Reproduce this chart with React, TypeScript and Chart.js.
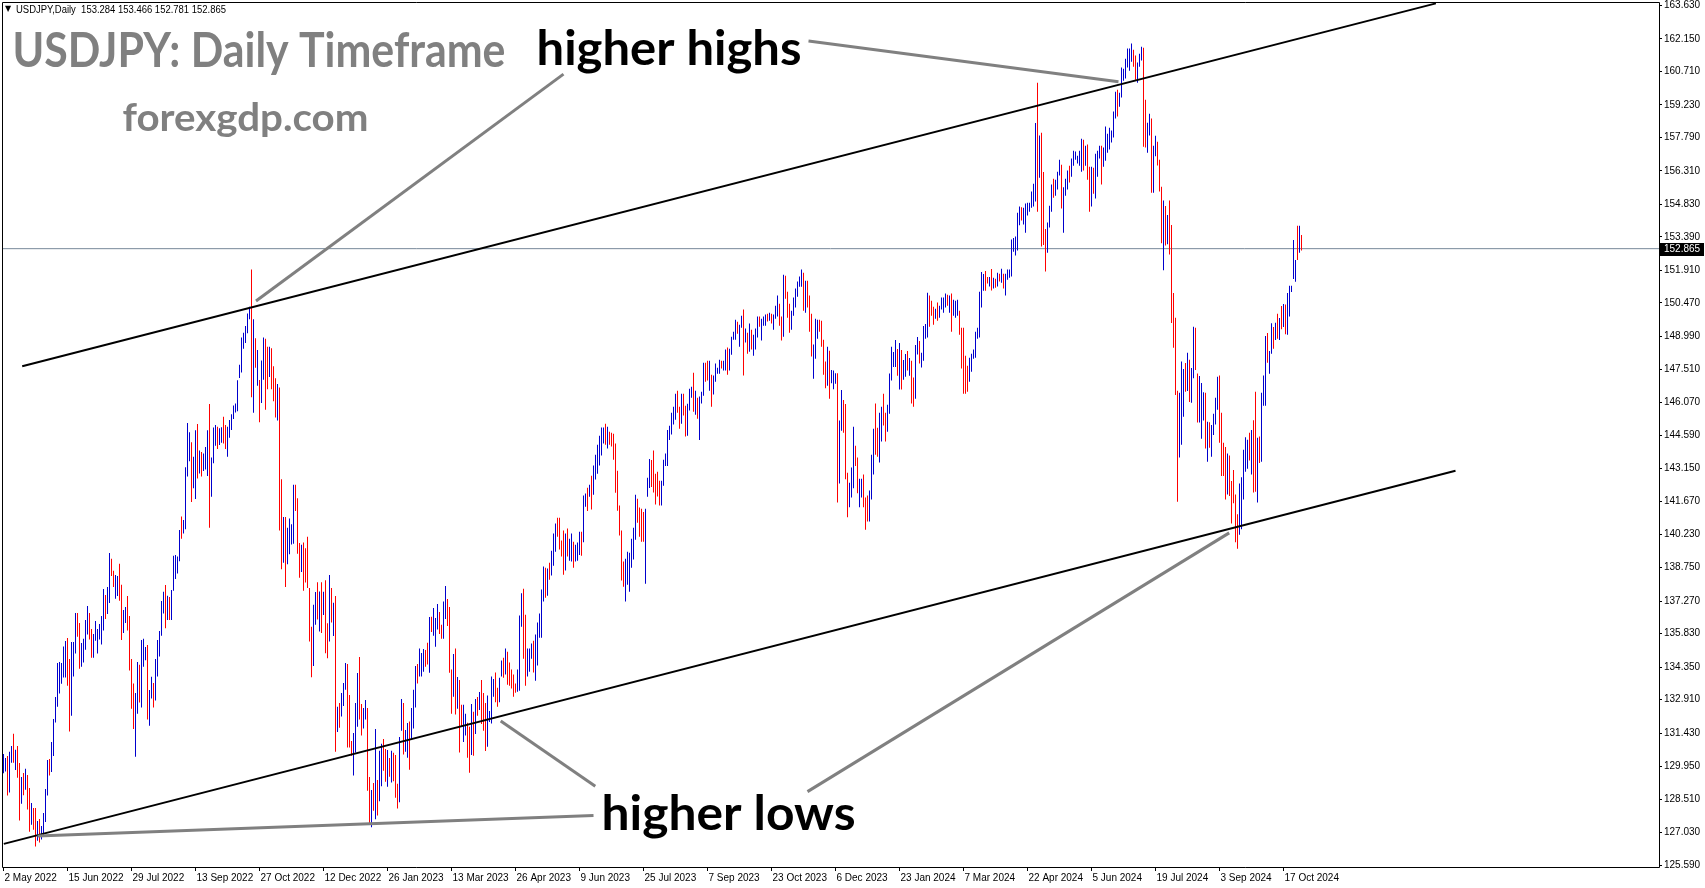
import React, { useEffect, useRef } from "react";
import { Chart, registerables } from "chart.js";

Chart.register(...registerables);

// ---------- DATA (USDJPY daily bars, 2 May 2022 .. 30 Oct 2024) ----------
const highs: number[] = [
  130.51,130.33,130.42,130.60,130.86,131.40,130.69,130.86,130.11,129.49,
  129.67,129.85,129.58,129.00,128.34,128.12,128.12,127.54,127.63,127.32,
  127.90,128.96,130.24,130.29,131.04,132.06,133.03,134.53,134.58,134.53,
  135.26,135.51,135.64,134.71,135.46,135.46,136.75,136.75,136.30,135.42,
  135.60,136.44,137.06,136.75,136.04,135.82,136.39,136.04,136.26,136.61,
  137.81,137.54,137.90,139.40,139.14,138.61,138.43,138.38,138.92,137.99,
  136.88,137.01,137.50,136.61,134.71,133.62,133.21,134.58,134.45,135.55,
  135.60,135.24,135.33,133.34,133.92,133.65,134.71,135.55,135.95,137.28,
  137.68,137.98,137.51,137.45,137.76,139.28,139.31,139.24,140.42,141.01,
  140.86,143.19,145.15,144.74,144.30,143.66,144.83,145.11,143.94,143.87,
  143.80,144.09,144.83,145.99,143.63,144.95,145.06,144.99,144.92,144.96,
  145.43,145.06,144.99,145.29,145.54,145.93,146.01,147.04,147.73,148.93,
  149.15,149.44,150.00,150.30,151.94,149.74,148.90,148.38,147.06,147.92,
  148.93,148.88,148.53,148.53,148.46,147.66,147.13,146.88,146.72,142.66,
  140.99,140.99,140.52,140.93,140.67,142.42,142.42,141.82,139.84,139.77,
  139.86,139.61,140.12,137.85,136.14,137.11,137.67,138.10,137.70,138.10,
  137.69,138.19,136.29,138.43,137.85,137.20,137.50,132.60,132.76,133.21,
  133.65,134.53,134.49,133.12,131.08,131.44,132.76,134.09,134.80,132.72,
  132.54,132.90,132.54,129.49,128.91,129.22,131.61,129.36,130.65,130.96,
  131.17,130.73,130.68,130.33,130.65,130.56,130.46,129.19,131.26,132.94,
  132.76,131.57,131.88,131.94,132.54,133.35,134.40,134.49,135.17,134.98,
  135.15,135.11,135.43,136.57,136.58,136.97,136.52,137.14,136.79,136.23,
  137.25,137.94,137.36,137.01,134.24,134.93,135.17,133.91,133.78,132.69,
  132.69,132.29,131.89,131.71,132.72,132.38,132.94,133.03,133.25,133.78,
  133.21,132.76,133.09,132.41,133.93,133.83,134.11,133.44,133.88,134.64,
  134.77,135.17,135.03,134.55,134.24,134.02,133.62,134.24,136.63,137.62,
  137.82,136.67,135.17,135.17,135.39,135.52,135.79,136.32,136.72,137.78,
  138.80,138.75,138.71,138.97,139.50,140.26,140.70,140.96,140.96,139.95,
  140.39,140.26,140.48,140.03,140.26,139.90,139.77,139.86,140.34,140.34,
  141.94,142.03,142.29,142.42,142.82,143.27,143.75,144.19,144.59,144.95,
  144.95,145.12,144.99,144.77,144.72,144.68,144.24,143.04,141.50,140.39,
  139.02,139.15,139.46,139.41,140.03,140.52,141.98,141.80,141.41,141.36,
  141.21,141.36,142.73,143.56,143.52,143.94,142.91,143.00,142.60,142.60,
  143.53,143.80,144.84,145.03,145.61,145.87,146.45,146.58,145.87,146.45,
  146.45,145.92,146.00,146.67,146.76,147.38,146.58,146.27,146.32,146.54,
  147.82,147.82,147.91,147.91,147.29,147.25,147.78,147.60,147.95,147.91,
  147.91,148.40,148.49,148.44,148.97,149.19,149.72,149.63,149.50,149.90,
  150.17,149.33,149.15,149.55,149.28,149.06,149.33,149.86,149.86,149.77,
  149.86,149.95,149.99,150.03,149.99,149.95,150.34,150.79,150.43,149.86,
  151.71,151.67,150.96,150.43,150.12,150.70,151.10,151.41,151.63,151.94,
  151.80,151.45,151.45,150.79,149.99,148.62,149.77,149.72,149.72,149.68,
  148.84,147.87,148.53,148.35,147.50,147.47,147.35,147.35,145.26,146.61,
  146.17,145.99,142.95,142.51,143.18,144.99,144.15,143.62,142.69,142.69,
  142.87,141.85,141.94,142.16,143.75,144.90,146.01,144.94,145.61,145.87,
  146.45,145.61,145.96,147.34,148.53,148.29,148.82,148.43,148.69,148.38,
  147.94,148.21,148.34,148.03,147.91,147.16,148.60,148.96,148.78,148.26,
  149.44,149.53,150.92,150.79,150.56,150.30,150.21,150.48,150.34,150.70,
  150.70,150.88,150.83,150.79,150.88,150.61,150.56,150.61,150.12,149.37,
  149.37,148.13,147.69,148.04,148.22,148.40,149.19,149.37,150.96,151.83,
  151.74,151.88,151.61,151.61,151.97,151.58,151.54,151.80,151.76,151.98,
  151.76,151.76,151.94,151.94,153.27,153.34,153.40,154.46,154.73,154.70,
  154.68,154.86,154.90,154.90,155.39,155.74,158.43,160.21,157.87,158.00,
  156.26,153.74,154.02,154.77,155.70,155.96,155.92,156.27,156.80,156.58,
  155.58,155.96,156.32,156.54,156.85,157.20,157.16,156.98,157.20,157.73,
  157.69,157.42,157.47,156.49,156.49,156.45,157.07,157.20,157.42,157.42,
  157.34,158.27,157.95,158.22,158.09,158.93,159.81,159.90,159.77,160.88,
  160.83,161.27,161.72,161.72,161.94,161.67,161.41,161.10,161.49,161.80,
  161.76,159.46,158.44,158.84,158.62,157.42,157.86,157.60,156.80,155.60,
  155.00,154.75,154.36,155.00,153.91,150.90,149.81,146.58,146.49,147.87,
  147.54,147.81,148.26,147.95,147.58,149.41,149.37,147.34,147.23,146.92,
  146.51,146.49,145.21,145.18,145.06,145.56,146.27,147.20,147.25,145.61,
  144.28,144.09,143.80,143.71,142.59,143.07,141.99,141.11,142.48,142.75,
  143.97,144.52,144.41,144.72,144.84,145.27,146.54,144.50,144.55,146.49,
  147.25,149.00,149.13,148.34,149.56,149.40,149.59,149.99,149.80,150.33,
  150.42,150.39,150.90,151.23,151.23,153.25,152.36,153.88,153.88,153.47,
];

const lows: number[] = [
  129.65,129.73,128.67,128.80,130.12,130.12,129.80,129.46,127.56,128.30,
  128.68,128.92,128.05,127.07,127.38,127.15,126.41,126.67,126.59,126.72,
  126.90,127.50,128.67,129.55,129.71,130.42,131.90,132.60,133.18,133.61,
  133.89,133.89,133.53,131.50,132.20,133.93,134.95,135.69,134.28,134.37,
  134.55,135.12,135.79,135.57,134.77,134.77,135.52,134.95,135.57,135.35,
  135.97,136.48,136.70,137.19,138.38,137.90,137.37,137.50,137.29,135.55,
  135.86,136.30,135.97,134.20,132.51,131.61,130.38,132.29,132.78,132.56,
  134.37,134.65,132.03,131.76,132.96,132.56,132.87,133.93,134.82,135.74,
  136.72,136.07,136.44,136.44,136.44,137.73,138.25,138.49,139.03,140.03,
  140.26,140.45,142.78,143.46,141.66,142.26,141.79,142.70,142.92,142.78,
  143.03,143.09,142.81,140.52,141.89,143.37,144.14,144.00,144.18,144.28,
  144.25,144.00,143.66,144.50,144.84,145.33,145.62,145.67,147.14,147.39,
  148.44,148.69,149.12,149.74,146.29,145.61,147.60,146.80,145.18,146.04,
  147.07,145.74,146.64,147.19,146.64,146.11,145.40,145.26,140.39,138.68,
  138.97,137.90,138.90,139.34,139.78,139.81,141.26,139.37,138.31,138.56,
  137.73,138.09,137.85,135.48,133.90,134.40,136.23,136.46,135.93,135.86,
  136.66,134.96,134.74,135.48,136.32,135.73,130.60,131.48,131.67,132.16,
  132.63,133.35,130.79,130.79,130.43,129.55,130.57,131.71,132.03,131.32,
  131.63,132.03,128.88,127.44,127.26,128.00,127.62,127.78,128.41,129.08,
  129.77,129.28,129.06,129.50,129.24,129.30,128.57,128.09,128.37,131.54,
  130.48,130.61,130.34,129.81,131.14,131.63,132.56,133.62,133.93,133.93,
  134.15,134.37,134.47,134.10,135.90,135.74,135.25,136.01,135.82,135.60,
  135.60,136.48,136.17,134.10,132.29,133.04,132.25,132.51,130.57,131.71,
  131.04,131.32,130.34,129.68,130.46,130.43,131.39,132.20,132.45,131.83,
  131.54,130.64,130.83,131.92,131.86,133.04,132.80,132.60,132.80,133.93,
  133.88,134.02,133.57,133.53,133.40,133.04,133.22,133.26,133.31,136.14,
  134.72,133.53,133.93,134.15,134.72,134.11,133.75,134.42,135.65,135.65,
  137.25,137.42,137.51,138.22,138.40,138.84,139.46,140.12,139.55,139.24,
  138.44,138.62,139.24,139.06,139.02,138.75,139.02,139.06,139.31,139.28,
  139.87,141.45,141.26,141.89,141.32,141.98,142.65,142.91,143.27,143.71,
  144.24,144.19,144.02,144.19,144.11,143.53,142.07,141.27,140.17,138.18,
  137.91,137.25,138.00,137.69,138.75,139.11,139.99,140.74,140.12,139.90,
  139.90,138.04,141.89,142.28,142.32,142.08,141.55,141.90,141.50,141.50,
  142.38,143.25,143.25,144.40,144.64,145.08,145.30,145.61,144.90,145.12,
  145.48,144.55,144.59,145.70,146.27,145.65,145.52,145.34,144.40,146.01,
  146.36,146.98,147.03,146.58,145.87,146.41,146.98,147.33,147.33,147.56,
  147.47,147.47,147.29,147.47,148.17,148.84,148.84,149.10,148.53,149.37,
  147.25,148.71,148.22,148.31,148.40,148.13,148.40,148.93,149.41,148.80,
  149.46,149.46,149.64,149.68,149.55,149.28,149.77,149.86,149.46,148.80,
  148.97,150.65,149.81,149.15,149.28,149.90,150.26,150.74,151.18,151.18,
  150.12,150.03,150.26,149.19,148.09,147.11,148.00,148.88,149.19,148.53,
  147.29,146.69,146.80,146.23,146.91,146.64,146.89,141.63,142.48,144.81,
  144.72,142.66,140.98,141.42,141.86,142.26,143.25,142.04,141.42,141.86,
  141.42,140.43,140.79,140.79,141.77,142.87,143.75,143.66,143.40,144.33,
  145.04,144.33,144.77,145.56,147.03,147.63,147.63,147.24,146.63,146.63,
  147.07,147.20,147.47,147.24,146.01,145.87,146.23,148.18,147.78,147.61,
  147.91,148.88,148.93,149.41,149.90,149.50,149.77,149.68,149.81,150.17,
  150.03,150.26,150.34,150.03,149.19,149.90,149.81,149.90,149.06,147.56,
  146.45,146.45,146.54,146.98,147.42,148.00,148.04,148.88,148.93,150.26,
  151.00,151.00,151.32,151.19,151.01,151.10,151.14,151.19,151.41,151.36,
  151.10,150.79,151.49,151.58,151.63,152.73,152.56,152.78,153.90,154.11,
  153.93,153.57,154.33,154.50,154.68,154.73,154.95,154.50,156.00,152.96,
  153.03,151.85,152.69,153.80,154.50,155.12,155.21,155.48,156.10,154.64,
  153.57,155.21,155.48,155.79,156.05,156.54,156.80,156.63,156.54,156.27,
  156.32,156.54,155.92,154.50,154.73,155.30,155.08,156.05,156.85,155.70,
  156.49,156.76,157.11,157.25,157.56,157.78,158.62,158.71,159.15,159.55,
  160.30,160.39,160.88,160.74,161.14,160.92,160.34,160.21,160.92,161.19,
  157.38,157.34,157.11,157.87,155.34,155.34,156.95,156.55,155.40,153.10,
  151.91,153.01,153.06,152.61,149.58,148.48,146.39,141.67,143.62,144.19,
  145.43,146.54,146.57,146.08,146.05,147.13,147.50,145.17,145.17,144.46,
  145.26,144.02,143.44,144.06,143.66,144.62,145.09,145.74,144.28,142.81,
  142.81,141.77,141.99,141.92,140.70,141.60,139.87,139.59,140.21,140.45,
  141.77,143.00,143.13,143.49,142.87,142.08,142.11,141.63,143.38,143.44,
  145.92,145.92,147.82,147.33,148.22,148.44,148.82,148.88,148.82,149.30,
  149.40,149.08,149.06,149.86,150.95,151.52,151.40,152.36,152.69,152.78,
];

// u = bullish bar (close above open), d = bearish bar
const barDirection: string[] = [
  "uuduududdu","dudduddudu","uuuduuuuuu","uudduuuddu","uuudduuuuu",
  "uduudduudd","uudddduudu","uuduuduuuu","ududuuuuud","uuuuduudud",
  "uuuduuuduu","dduuuuuuuu","uuuudududu","uddudddudd","uduuuudddu",
  "ddddduudud","uddudududu","uuddduuudd","uuddududuu","ddududdduu",
  "duuduuuduu","udduduuudd","uudddududd","uuddududud","dduuuudduu",
  "duddddduuu","dduuuduuuu","ududuuuddd","duduuduuud","uududuuuuu",
  "ududdddddd","duuuuuuddd","duuudddddu","uuuuuuuddu","dduuududuu",
  "udduduuuud","uuduuuuduu","dududuuudu","uududuuudd","uddduuuuuu",
  "duddduuudd","dduduuuduu","ddduuudduu","ddduuudduu","dduuuuudud",
  "uududduudu","uuuddduduu","uududuuudd","ddduuuuuuu","uddudududu",
  "duuuuuuuud","uuuuuuudud","dduuuduuud","uuuduuuuuu","dudduduuud",
  "uuuuuuuduu","uuuuudduuu","dduuduuddd","ududdddduu","ududuudduu",
  "ududuuuudd","dduddddduu","uuududdudu","uuduududud","uduuuuudud",
];

const xLabelBars: number[] = [0,32,64,96,128,160,192,224,256,288,320,352,384,416,448,480,512,544,576,608,640];
const xLabels: string[] = [
  "2 May 2022","15 Jun 2022","29 Jul 2022","13 Sep 2022","27 Oct 2022","12 Dec 2022",
  "26 Jan 2023","13 Mar 2023","26 Apr 2023","9 Jun 2023","25 Jul 2023","7 Sep 2023",
  "23 Oct 2023","6 Dec 2023","23 Jan 2024","7 Mar 2024","22 Apr 2024","5 Jun 2024",
  "19 Jul 2024","3 Sep 2024","17 Oct 2024",
];
const yTickValues: number[] = [
  163.63,162.15,160.71,159.23,157.79,156.31,154.83,153.39,151.91,150.47,148.99,147.51,146.07,
  144.59,143.15,141.67,140.23,138.75,137.27,135.83,134.35,132.91,131.43,129.95,128.51,127.03,125.59,
];
const lastPrice = 152.865;
const headerText = "USDJPY,Daily  153.284 153.466 152.781 152.865";

// channel lines and pointer lines, as (bar index, price) end points
const upperChannel = [{ x: 9.35, y: 147.66 }, { x: 716.2, y: 163.72 }];
const lowerChannel = [{ x: 0.15, y: 126.53 }, { x: 726, y: 143.04 }];
const pointerHigh2022 = [{ x: 280, y: 160.59 }, { x: 126.25, y: 150.55 }];
const pointerHigh2024 = [{ x: 402.5, y: 162.05 }, { x: 557.5, y: 160.25 }];
const pointerLow2023 = [{ x: 295.9, y: 129.08 }, { x: 248.6, y: 131.97 }];
const pointerLow2022 = [{ x: 295, y: 127.79 }, { x: 17, y: 126.88 }];
const pointerLow2024 = [{ x: 402, y: 128.84 }, { x: 612.85, y: 140.29 }];

// text notes anchored at (bar index, price)
const noteText = ["USDJPY: Daily Timeframe", "forexgdp.com", "higher highs", "higher lows"];
const noteBar = [4.5, 59.5, 266.5, 299];
const notePrice = [160.9, 158.09, 160.99, 127.14];

// ---------- STYLE ----------
const X_MIN = -0.75;
const X_MAX = 827.75;
const Y_MIN = 125.506;
const Y_MAX = 163.78;
const UP_COLOR = "#0000cd";
const DOWN_COLOR = "#ff0000";
const noteStyle = [
  { width: 493, size: 47, color: "#808080" },
  { width: 246, size: 39, color: "#808080" },
  { width: 265, size: 47, color: "#000000" },
  { width: 254, size: 47, color: "#000000" },
];
const TICK_FONT = { family: "'Liberation Sans', Arial, sans-serif", size: 10 };

function drawFitted(ctx: CanvasRenderingContext2D, text: string, x: number, y: number, width: number, font: string, color: string) {
  ctx.save();
  ctx.font = font;
  ctx.fillStyle = color;
  ctx.textBaseline = "alphabetic";
  ctx.textAlign = "left";
  const w = ctx.measureText(text).width || 1;
  ctx.translate(x, y);
  ctx.scale(width / w, 1);
  ctx.fillText(text, 0, 0);
  ctx.restore();
}

export default function App() {
  const ref = useRef<HTMLCanvasElement>(null);

  useEffect(() => {
    const canvas = ref.current;
    if (!canvas) return;
    const up = barDirection.join("").split("").map((c) => c === "u");
    const barData = highs.map((h, i) => ({ x: i, y: [lows[i], h] }));
    const barColors = highs.map((_, i) => (up[i] ? UP_COLOR : DOWN_COLOR));

    const lineDs = (pts: { x: number; y: number }[], color: string, width: number, order: number) => ({
      type: "line" as const,
      data: pts,
      borderColor: color,
      borderWidth: width,
      pointRadius: 0,
      pointHoverRadius: 0,
      fill: false,
      tension: 0,
      order,
    });

    const overlay = {
      id: "overlay",
      afterDatasetsUpdate(chart: any) {
        // snap the 1px OHLC bars onto whole pixel columns so they stay crisp
        chart.data.datasets.forEach((ds: any, di: number) => {
          if (ds.type !== "bar") return;
          chart.getDatasetMeta(di).data.forEach((el: any) => {
            el.x = Math.floor(el.x) + 0.5;
            el.width = 1;
          });
        });
      },
      beforeDraw(chart: any) {
        const ctx = chart.ctx;
        ctx.save();
        ctx.fillStyle = "#ffffff";
        ctx.fillRect(0, 0, chart.width, chart.height);
        ctx.restore();
      },
      afterDatasetsDraw(chart: any) {
        const ctx: CanvasRenderingContext2D = chart.ctx;
        const xs = chart.scales.x;
        const ys = chart.scales.y;
        noteText.forEach((t, i) => {
          const st = noteStyle[i];
          drawFitted(ctx, t, xs.getPixelForValue(noteBar[i]), ys.getPixelForValue(notePrice[i]), st.width, `bold ${st.size}px Lato, 'Open Sans', sans-serif`, st.color);
        });
      },
      afterDraw(chart: any) {
        const ctx: CanvasRenderingContext2D = chart.ctx;
        const a = chart.chartArea;
        const ys = chart.scales.y;
        ctx.save();
        // frame
        ctx.strokeStyle = "#000";
        ctx.lineWidth = 1;
        ctx.beginPath();
        ctx.moveTo(a.left + 0.5, a.top + 0.5);
        ctx.lineTo(a.right + 0.5, a.top + 0.5);
        ctx.lineTo(a.right + 0.5, a.bottom + 0.5);
        ctx.lineTo(a.left + 0.5, a.bottom + 0.5);
        ctx.closePath();
        ctx.stroke();
        // header
        ctx.fillStyle = "#000";
        ctx.font = "8px 'DejaVu Sans', sans-serif";
        ctx.textBaseline = "middle";
        ctx.fillText("\u25BC", a.left + 3, a.top + 7);
        ctx.restore();
        drawFitted(ctx, headerText, a.left + 14, a.top + 10.5, 210, "10px 'Liberation Sans', Arial, sans-serif", "#000");
        // last price label
        ctx.save();
        const py = Math.round(ys.getPixelForValue(lastPrice));
        ctx.fillStyle = "#000";
        ctx.fillRect(a.right + 1, py - 6, 44, 13);
        ctx.fillStyle = "#fff";
        ctx.font = "10px 'Liberation Sans', Arial, sans-serif";
        ctx.textBaseline = "middle";
        ctx.textAlign = "left";
        ctx.fillText(lastPrice.toFixed(3), a.right + 5, py + 0.5);
        ctx.restore();
      },
    };

    const chart = new Chart(canvas, {
      type: "bar",
      data: {
        datasets: [
          lineDs([{ x: X_MIN, y: lastPrice }, { x: X_MAX, y: lastPrice }], "#778899", 1, 20),
          {
            type: "bar",
            data: barData as any,
            backgroundColor: barColors,
            borderWidth: 0,
            barThickness: 1,
            inflateAmount: 0,
            grouped: false,
            order: 10,
          } as any,
          lineDs(upperChannel, "#000000", 2, 3),
          lineDs(lowerChannel, "#000000", 2, 3),
          lineDs(pointerHigh2022, "#808080", 3, 2),
          lineDs(pointerHigh2024, "#808080", 3, 2),
          lineDs(pointerLow2023, "#808080", 3, 2),
          lineDs(pointerLow2022, "#808080", 3, 2),
          lineDs(pointerLow2024, "#808080", 3, 2),
        ] as any,
      },
      options: {
        animation: false,
        responsive: false,
        maintainAspectRatio: false,
        events: [],
        layout: { padding: { left: 2, top: 2, right: 0, bottom: 0 } },
        plugins: {
          legend: { display: false },
          tooltip: { enabled: false },
          title: { display: false },
        },
        scales: {
          x: {
            type: "linear",
            offset: false,
            bounds: "data",
            min: X_MIN,
            max: X_MAX,
            afterBuildTicks: (s: any) => {
              s.ticks = xLabelBars.map((v) => ({ value: v }));
            },
            afterFit: (s: any) => {
              s.height = 21;
              s.paddingLeft = 0;
              s.paddingRight = 0;
            },
            ticks: {
              autoSkip: false,
              maxRotation: 0,
              minRotation: 0,
              align: "start",
              labelOffset: 1,
              padding: 1,
              color: "#000",
              font: TICK_FONT,
              callback: (v: any) => xLabels[xLabelBars.indexOf(Number(v))] ?? "",
            },
            grid: { offset: false, drawOnChartArea: false, drawTicks: true, tickLength: 4, color: "#000" },
            border: { display: false },
          },
          y: {
            type: "linear",
            position: "right",
            offset: false,
            min: Y_MIN,
            max: Y_MAX,
            afterBuildTicks: (s: any) => {
              s.ticks = yTickValues.map((v) => ({ value: v }));
            },
            afterFit: (s: any) => {
              s.width = 46;
              s.paddingTop = 0;
              s.paddingBottom = 0;
            },
            ticks: {
              autoSkip: false,
              padding: 2,
              crossAlign: "near",
              color: "#000",
              font: TICK_FONT,
              callback: (v: any) => Number(v).toFixed(3),
            },
            grid: { drawOnChartArea: false, drawTicks: true, tickLength: 3, color: "#000" },
            border: { display: false },
          },
        },
      } as any,
      plugins: [overlay],
    });
    return () => chart.destroy();
  }, []);

  return (
    <div style={{ position: "fixed", left: 0, top: 0, width: 1705, height: 888, background: "#fff" }}>
      <canvas ref={ref} width={1705} height={888} style={{ display: "block", width: 1705, height: 888 }} />
    </div>
  );
}
